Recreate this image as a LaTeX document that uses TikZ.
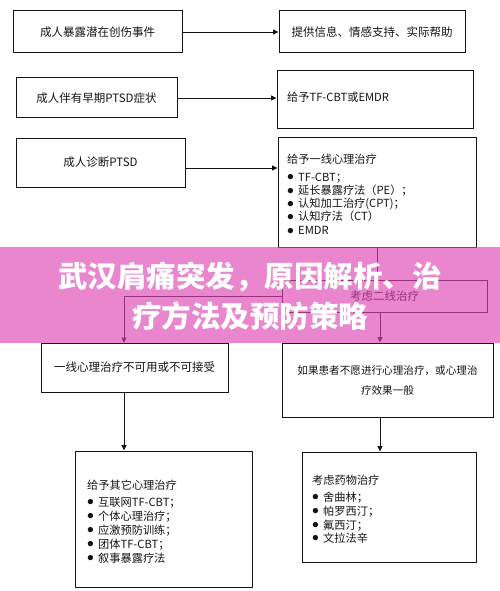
\documentclass[tikz,border=0pt]{standalone}
\usepackage{fontspec}
\setmainfont{Noto Sans CJK SC}
\newfontfamily\cjk{Noto Sans CJK SC}
\usetikzlibrary{arrows.meta}
\definecolor{bannerpink}{RGB}{221,69,180}
\definecolor{ink}{RGB}{20,20,20}
\tikzset{
  box/.style={draw=ink, line width=1pt, inner sep=0pt, text=ink, align=center,
    font=\fontsize{11.5}{13}\selectfont},
  arr/.style={draw=ink, line width=0.9pt, -{Triangle[length=5.5pt,width=5pt]}},
  ln/.style={anchor=base west, inner sep=0pt, text=ink, text height=8.5pt, text depth=1.5pt,
    font=\fontsize{11.2}{13}\selectfont},
  banner/.style={fill=bannerpink, fill opacity=0.65, inner sep=0pt, minimum width=500pt, minimum height=96pt},
  bannertext/.style={text=white, inner sep=0pt, font=\cjk\bfseries\fontsize{29.5}{30}\selectfont},
}
\newcommand{\bul}{\makebox[11pt][l]{\raisebox{0.2pt}{\scalebox{1.25}{$\bullet$}}}}
\begin{document}
\begin{tikzpicture}[x=1pt,y=-1pt]
\useasboundingbox (0,0) rectangle (500,591);
% boxes
\node[box, minimum width=169pt, minimum height=42pt] (b1) at (97.5,32) {成人暴露潜在创伤事件};
\node[box, minimum width=186pt, minimum height=42pt] (b2) at (372,32) {提供信息、情感支持、实际帮助};
\node[box, minimum width=161pt, minimum height=40pt] (b3) at (96.5,98) {成人伴有早期PTSD症状};
\node[box, minimum width=196pt, minimum height=57pt] (b4) at (375,99.5) {};
\node[ln] (t4) at (287,102) {给予TF-CBT或EMDR};
\node[box, minimum width=169pt, minimum height=49pt] (b5) at (100.5,162.5) {成人诊断PTSD};
\node[box, minimum width=198pt, minimum height=110pt] (b6) at (377,192) {};
\node[ln] (t6a) at (287,163) {给予一线心理治疗};
\node[ln] (t6b) at (287,181) {\bul TF-CBT；};
\node[ln] (t6c) at (287,194.3) {\bul 延长暴露疗法（PE）；};
\node[ln] (t6d) at (287,207.6) {\bul 认知加工治疗(CPT)；};
\node[ln] (t6e) at (287,220.9) {\bul 认知疗法（CT）};
\node[ln] (t6f) at (287,234.2) {\bul EMDR};
\node[box, minimum width=205pt, minimum height=32pt] (b7) at (384.5,296) {考虑二线治疗};
\node[box, minimum width=187pt, minimum height=49pt] (b8) at (134.5,367.5) {一线心理治疗不可用或不可接受};
\node[box, minimum width=211pt, minimum height=74pt, font=\fontsize{10.6}{20}\selectfont] (b9) at (387.5,380) {如果患者不愿进行心理治疗，或心理治\\疗效果一般};
\node[box, minimum width=177pt, minimum height=136pt] (b10) at (163.5,519) {};
\node[ln] (t10a) at (87,489) {给予其它心理治疗};
\node[ln] (t10b) at (87,506) {\bul 互联网TF-CBT；};
\node[ln] (t10c) at (87,520) {\bul 个体心理治疗；};
\node[ln] (t10d) at (87,534) {\bul 应激预防训练；};
\node[ln] (t10e) at (87,548) {\bul 团体TF-CBT；};
\node[ln] (t10f) at (87,562) {\bul 叙事暴露疗法};
\node[box, minimum width=174pt, minimum height=110pt] (b11) at (389,507) {};
\node[ln] (t11a) at (312,484) {考虑药物治疗};
\node[ln] (t11b) at (312,501) {\bul 舍曲林；};
\node[ln] (t11c) at (312,515) {\bul 帕罗西汀；};
\node[ln] (t11d) at (312,529) {\bul 氟西汀；};
\node[ln] (t11e) at (312,542) {\bul 文拉法辛};
% connector anchor points
\coordinate (p5) at (185,168);
\coordinate (p7s) at (380,312);
\coordinate (p8n) at (124,343);
\coordinate (p8s) at (124,392);
\coordinate (p9s) at (380,417);
% connectors
\draw[arr] (b1.east) -- (b2.west);
\draw[arr] (b3.east) -- (b4.west |- b3.east);
\draw[arr] (p5) -- (b6.west |- p5);
\draw[arr] (b6.south) -- (b6.south |- b7.north);
\draw[arr] (b7.west) -| (p8n);
\draw[arr] (p7s) -- (p7s |- b9.north);
\draw[arr] (p8s) -- (p8s |- b10.north);
\draw[arr] (p9s) -- (p9s |- b11.north);
% banner overlay
\node[banner] (bn) at (250,295) {};
\node[bannertext] (bt1) at (250,277) {武汉肩痛突发，原因解析、治};
\node[bannertext] (bt2) at (250,316) {疗方法及预防策略};
\end{tikzpicture}
\end{document}
